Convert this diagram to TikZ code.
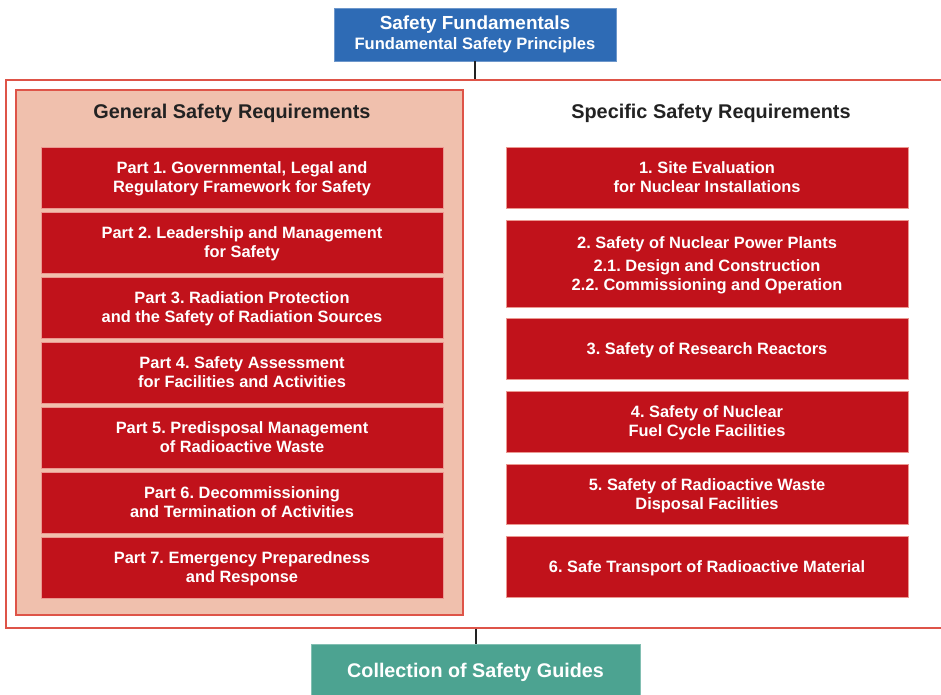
\documentclass[tikz,border=0pt]{standalone}
\usepackage{fontspec}
\setmainfont{Liberation Sans}
\frenchspacing
\newdimen\pxu \pxu=0.75pt
\definecolor{sfblue}{RGB}{46,107,181}
\definecolor{boxred}{RGB}{193,18,27}
\definecolor{edgered}{RGB}{222,84,72}
\definecolor{panelpink}{RGB}{240,192,173}
\definecolor{guidegreen}{RGB}{76,163,145}
\definecolor{darktext}{RGB}{34,34,34}
\tikzset{
  reqbox/.style={draw=edgered!60!white, line width=0.6pt, fill=boxred, text=white,
    minimum width=402\pxu, inner sep=0pt, align=center, text depth=0pt,
    font=\bfseries\fontsize{12.3pt}{14.3pt}\selectfont},
  paneltitle/.style={text=darktext, font=\bfseries\fontsize{14.9pt}{17pt}\selectfont},
  link/.style={draw=darktext, line width=1.5pt},
}
\begin{document}
\begin{tikzpicture}[x=0.75pt,y=-0.75pt]
\useasboundingbox (0,0) rectangle (941,694);
% outer frame
\node[draw=edgered, line width=1pt, minimum width=939\pxu, minimum height=548\pxu, inner sep=0pt] (outer) at (475.5,354) {};
% left panel
\node[draw=edgered, line width=1pt, fill=panelpink, minimum width=447\pxu, minimum height=525\pxu, inner sep=0pt] (panel) at (239.5,352.5) {};
% top box
\node[draw=sfblue!70!white, line width=0.6pt, fill=sfblue, text=white, minimum width=282\pxu, minimum height=53\pxu, inner sep=0pt, align=center] (fund) at (475,34.5)
  {{\bfseries\fontsize{14.2pt}{16pt}\selectfont Safety Fundamentals}\\[2.5pt]
   {\bfseries\fontsize{12.4pt}{14pt}\selectfont Fundamental Safety Principles}};
% bottom box
\node[draw=guidegreen!70!white, line width=0.6pt, fill=guidegreen, text=white, minimum width=329\pxu, minimum height=56\pxu, inner sep=0pt,
  font=\bfseries\fontsize{14.8pt}{17pt}\selectfont] (guides) at (475.5,672) {Collection of Safety Guides};
% connectors
\draw[link] (fund.south) -- (fund.south |- outer.north);
\draw[link] (guides.north |- outer.south) -- (guides.north);
% titles
\node[paneltitle] (gtitle) at (232,113.5) {General Safety Requirements};
\node[paneltitle] (stitle) at (711,113.5) {Specific Safety Requirements};
% general parts
\node[reqbox, minimum height=61\pxu] (g1) at (242,177.5) {Part 1. Governmental, Legal and\\Regulatory Framework for Safety};
\node[reqbox, minimum height=61\pxu] (g2) at (242,242.5) {Part 2. Leadership and Management\\for Safety};
\node[reqbox, minimum height=61\pxu] (g3) at (242,307.5) {Part 3. Radiation Protection\\and the Safety of Radiation Sources};
\node[reqbox, minimum height=61\pxu] (g4) at (242,372.5) {Part 4. Safety Assessment\\for Facilities and Activities};
\node[reqbox, minimum height=61\pxu] (g5) at (242,437.5) {Part 5. Predisposal Management\\of Radioactive Waste};
\node[reqbox, minimum height=61\pxu] (g6) at (242,502.5) {Part 6. Decommissioning\\and Termination of Activities};
\node[reqbox, minimum height=61\pxu] (g7) at (242,567.5) {Part 7. Emergency Preparedness\\and Response};
% specific parts
\node[reqbox, minimum height=61\pxu] (s1) at (707,177.5) {1. Site Evaluation\\for Nuclear Installations};
\node[reqbox, minimum height=87\pxu] (s2) at (707,263.5) {2. Safety of Nuclear Power Plants\\[3pt]2.1. Design and Construction\\2.2. Commissioning and Operation};
\node[reqbox, minimum height=61\pxu] (s3) at (707,348.5) {3. Safety of Research Reactors};
\node[reqbox, minimum height=61\pxu] (s4) at (707,421.5) {4. Safety of Nuclear\\Fuel Cycle Facilities};
\node[reqbox, minimum height=60\pxu] (s5) at (707,494) {5. Safety of Radioactive Waste\\Disposal Facilities};
\node[reqbox, minimum height=61\pxu] (s6) at (707,566.5) {6. Safe Transport of Radioactive Material};
\end{tikzpicture}
\end{document}
